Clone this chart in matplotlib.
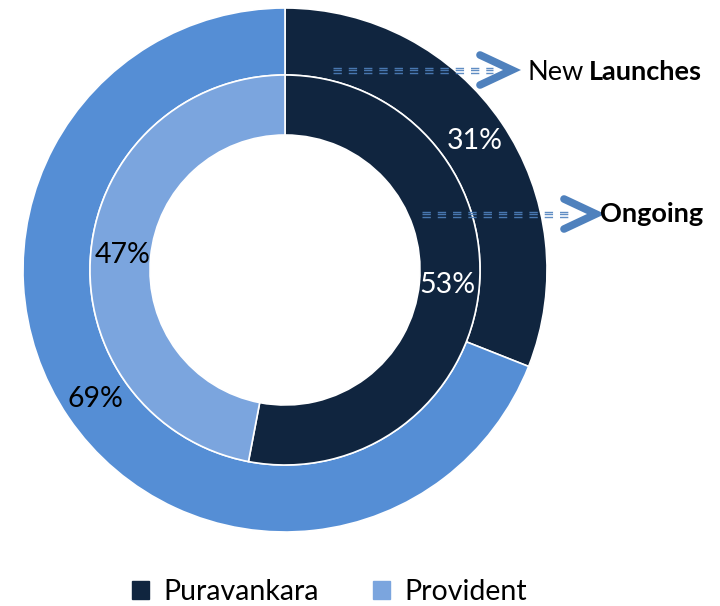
import matplotlib
matplotlib.use("Agg")
import matplotlib.pyplot as plt

# data
labels = ["Puravankara", "Provident"]
new_launches = [31, 69]   # outer ring
ongoing = [53, 47]        # inner ring

dark = "#10253F"
outer_light = "#558ED5"
inner_light = "#7BA5DE"
arrow_col = "#4F81BD"
fs = 20.5

plt.rcParams["font.family"] = ["Lato", "DejaVu Sans"]

fig = plt.figure(figsize=(7.2, 6.06), dpi=100)
ax = fig.add_axes([0, 0, 1, 1])

cx, cy = 285, 606 - 270
r_out, r_mid, r_in = 262, 195, 135

# outer ring: new launches
ax.pie(new_launches, colors=[dark, outer_light], startangle=90,
       counterclock=False, radius=r_out, center=(cx, cy),
       wedgeprops=dict(width=r_out - r_mid, edgecolor="white", linewidth=1.2),
       autopct="%.0f%%", pctdistance=0.875, frame=True)
# inner ring: ongoing
ax.pie(ongoing, colors=[dark, inner_light], startangle=90,
       counterclock=False, radius=r_mid, center=(cx, cy),
       wedgeprops=dict(width=r_mid - r_in, edgecolor="white", linewidth=1.2),
       autopct="%.0f%%", pctdistance=0.835, frame=True)
ax.set_xlim(0, 720)
ax.set_ylim(0, 606)
ax.axis("off")

# white on dark, black on light
for t in ax.texts:
    if t.get_text().endswith("%"):
        t.set_fontsize(fs)
        t.set_color("white" if t.get_text() in ("31%", "53%") else "black")


def pointer(x0, x1, y, tip_x):
    for dy in (-2.5, 0, 2.5):
        ax.plot([x0, x1], [y + dy, y + dy], color=arrow_col, lw=1.0,
                dashes=(6, 5), alpha=0.9)
    ax.plot([tip_x - 32, tip_x, tip_x - 32], [y + 15, y, y - 15],
            color=arrow_col, lw=5.5, solid_capstyle="round", solid_joinstyle="miter")


pointer(333, 493, 606 - 70, 512)
pointer(422, 573, 606 - 214, 596)

t_new = ax.text(527, 606 - 72, "New", fontsize=19.5, va="center", ha="left")
fig.canvas.draw()
bb = t_new.get_window_extent()
ax.text(bb.x1 + 6, 606 - 72, "Launches", fontsize=19.5, va="center", ha="left", fontweight="bold")
ax.text(600, 606 - 214, "Ongoing", fontsize=19.5, va="center", ha="left", fontweight="bold")

handles = [plt.Rectangle((0, 0), 1, 1, color=dark), plt.Rectangle((0, 0), 1, 1, color=inner_light)]
fig.legend(handles, labels, loc="lower center", bbox_to_anchor=(0.458, -0.04), ncol=2,
           frameon=False, fontsize=fs, handlelength=0.6, handleheight=0.6,
           handletextpad=0.5, columnspacing=1.9)

fig.savefig("out.png", dpi=100)
